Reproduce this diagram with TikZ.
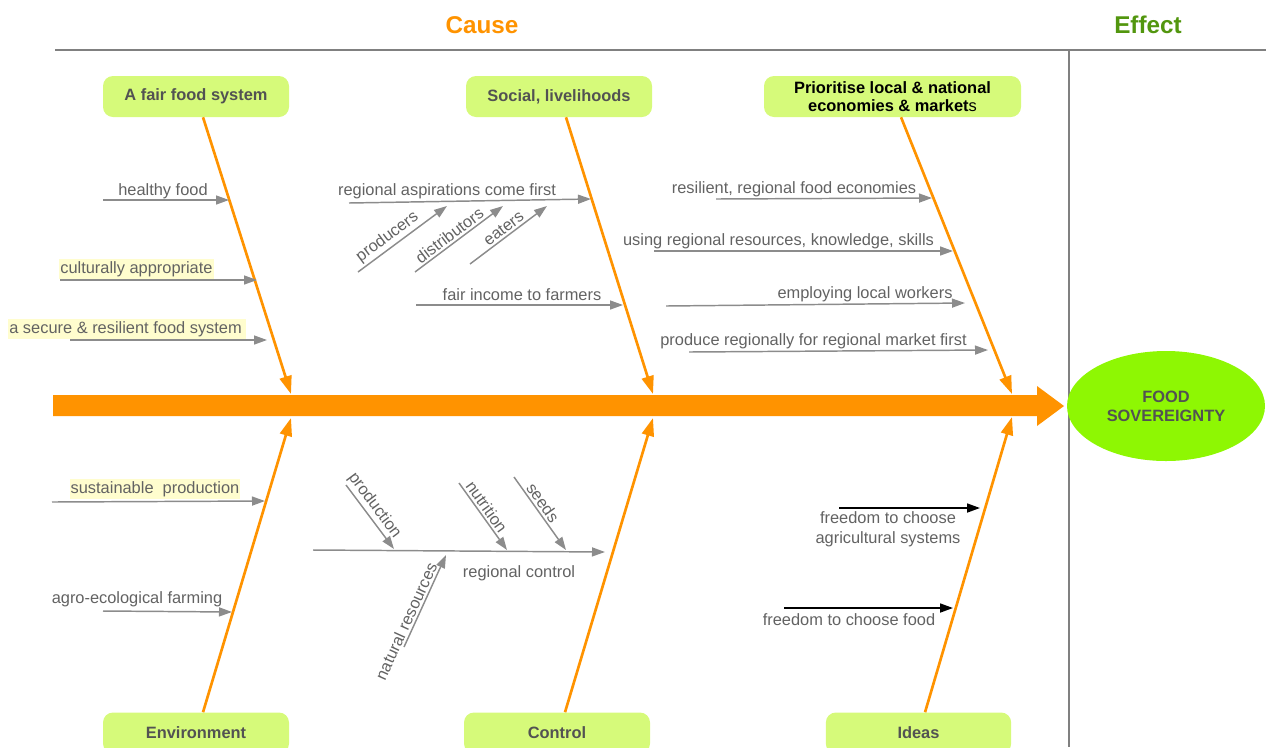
\documentclass[tikz,border=0pt]{standalone}
\usepackage{fontspec}
\setmainfont{Liberation Sans}
\usetikzlibrary{shapes.geometric,arrows.meta}
\definecolor{fborange}{RGB}{255,147,0}
\definecolor{boxgreen}{RGB}{214,250,122}
\definecolor{limegreen}{RGB}{142,247,3}
\definecolor{effgreen}{RGB}{82,150,14}
\definecolor{rulegray}{RGB}{128,128,128}
\definecolor{arrgray}{RGB}{140,140,140}
\definecolor{txtgray}{RGB}{98,98,98}
\definecolor{boxtxt}{RGB}{82,82,82}
\definecolor{hl}{RGB}{255,253,206}
\begin{document}
\begin{tikzpicture}[x=0.75pt,y=-0.75pt,
 lbl/.style={font=\fontsize{12.3}{15}\selectfont, text=txtgray, inner sep=0pt},
 hlbl/.style={lbl, fill=hl, inner ysep=1.6pt, inner xsep=0.8pt},
 cat/.style={fill=boxgreen, rounded corners=7.5pt, minimum height=30.75pt, font=\fontsize{12.3}{13.5}\selectfont\bfseries, text=boxtxt, inner sep=0pt, align=center},
 bone/.style={draw=fborange, line width=2pt, -{Triangle[length=13.5pt,width=9pt]}},
 sub/.style={draw=arrgray, line width=1.1pt, -{Triangle[length=9.75pt,width=6.75pt]}},
 blk/.style={draw=black, line width=1.3pt, -{Triangle[length=9.75pt,width=6.75pt]}},
 ttl/.style={font=\fontsize{18.2}{20}\selectfont\bfseries},
 slab/.style={lbl, sloped, above=1.5pt},
]
\useasboundingbox (0,0) rectangle (1266,747);

% titles and rules
\node[ttl, text=fborange, anchor=base] (cause) at (482,33) {Cause};
\node[ttl, text=effgreen, anchor=base] (effect) at (1148,33) {Effect};
\coordinate (hl1) at (55,50); \coordinate (hl2) at (1266,50);
\coordinate (vl1) at (1069,50); \coordinate (vl2) at (1069,747);
\draw[rulegray, line width=2.2pt] (hl1) -- (hl2);
\draw[rulegray, line width=2.2pt] (vl1) -- (vl2);

% spine
\fill[fborange] (53,395) -- (1037,395) -- (1037,386) -- (1064,406) -- (1037,426) -- (1037,416) -- (53,416) -- cycle;

% effect
\node[ellipse, fill=limegreen, minimum width=148.5pt, minimum height=82.5pt, inner sep=0pt,
      font=\fontsize{12.3}{14.3}\selectfont\bfseries, text=boxtxt, align=center] (fs) at (1166,406) {FOOD\\SOVEREIGNTY};

% categories
\node[cat, minimum width=139.5pt] (fair) at (196,96.5) {A fair food system};
\node[cat, minimum width=139.5pt] (social) at (559,96.5) {Social, livelihoods};
\node[cat, minimum width=192.75pt, text=black, font=\fontsize{12.3}{13.5}\selectfont] (prio) at (892.5,96.5) {\textbf{Prioritise local \& national}\\\textbf{economies \& market}s};
\node[cat, minimum width=139.5pt] (env) at (196,733) {Environment};
\node[cat, minimum width=139.5pt] (ctrl) at (557,733) {Control};
\node[cat, minimum width=139pt] (ideas) at (918.5,733) {Ideas};

% bone ends
\coordinate (t1) at (291,394); \coordinate (t2) at (653,394); \coordinate (t3) at (1012,394);
\coordinate (u1) at (291,418); \coordinate (u2) at (653,418); \coordinate (u3) at (1012,417);
\draw[bone] ([xshift=5.25pt]fair.south) -- (t1);
\draw[bone] ([xshift=5.25pt]social.south) -- (t2);
\draw[bone] ([xshift=6.4pt]prio.south) -- (t3);
\draw[bone] ([xshift=5.25pt]env.north) -- (u1);
\draw[bone] ([xshift=6pt]ctrl.north) -- (u2);
\draw[bone] ([xshift=4.9pt]ideas.north) -- (u3);

% --- A fair food system
\coordinate (a1s) at (103,200); \coordinate (a1e) at (229,200);
\draw[sub] (a1s) -- (a1e);
\node[lbl, anchor=base] (a1) at (163,195) {healthy food};
\coordinate (a2s) at (60,280); \coordinate (a2e) at (257,280);
\draw[sub] (a2s) -- (a2e);
\node[hlbl, anchor=base west] (a2) at (59,273) {culturally appropriate\ };
\coordinate (a3s) at (70,340); \coordinate (a3e) at (267,340);
\draw[sub] (a3s) -- (a3e);
\node[hlbl, anchor=base west] (a3) at (8,333) {a secure \& resilient food system\,};

% --- Social, livelihoods
\coordinate (s1s) at (349,203); \coordinate (s1e) at (591,199);
\draw[sub] (s1s) -- (s1e);
\node[lbl, anchor=base] (s1) at (447,195) {regional aspirations come first};
\coordinate (p1s) at (358,272); \coordinate (p1e) at (447,206);
\draw[sub] (p1s) -- node[slab, pos=0.4] (p1) {producers} (p1e);
\coordinate (p2s) at (415,272); \coordinate (p2e) at (503,206);
\draw[sub] (p2s) -- node[slab, pos=0.45] (p2) {distributors} (p2e);
\coordinate (p3s) at (470,264); \coordinate (p3e) at (547,206);
\draw[sub] (p3s) -- node[slab, pos=0.5] (p3) {eaters} (p3e);
\coordinate (s2s) at (416,305); \coordinate (s2e) at (623,305);
\draw[sub] (s2s) -- (s2e);
\node[lbl, anchor=base] (s2) at (522,300) {fair income to farmers};

% --- Prioritise local
\coordinate (r1s) at (716,199); \coordinate (r1e) at (932,198);
\draw[sub] (r1s) -- (r1e);
\node[lbl, anchor=base] (r1) at (794,193) {resilient, regional food economies};
\coordinate (r2s) at (654,251); \coordinate (r2e) at (953,251);
\draw[sub] (r2s) -- (r2e);
\node[lbl, anchor=base] (r2) at (778.5,245) {using regional resources, knowledge, skills};
\coordinate (r3s) at (666,306); \coordinate (r3e) at (965,303);
\draw[sub] (r3s) -- (r3e);
\node[lbl, anchor=base] (r3) at (865,298) {employing local workers};
\coordinate (r4s) at (689,352); \coordinate (r4e) at (988,350);
\draw[sub] (r4s) -- (r4e);
\node[lbl, anchor=base] (r4) at (813.5,345) {produce regionally for regional market first};

% --- Environment
\coordinate (e1s) at (52,502); \coordinate (e1e) at (265,501);
\draw[sub] (e1s) -- (e1e);
\node[hlbl, anchor=base] (e1) at (155,493) {sustainable\ \ production};
\coordinate (e2s) at (103,611); \coordinate (e2e) at (232,612);
\draw[sub] (e2s) -- (e2e);
\node[lbl, anchor=base] (e2) at (137,603) {agro-ecological farming};

% --- Control
\coordinate (c1s) at (313,550); \coordinate (c1e) at (605,552);
\draw[sub] (c1s) -- (c1e);
\node[lbl, anchor=base] (c1) at (519,577) {regional control};
\coordinate (q1s) at (346,485); \coordinate (q1e) at (394,549);
\draw[sub] (q1s) -- node[slab, pos=0.42] (q1) {production} (q1e);
\coordinate (q2s) at (459,483); \coordinate (q2e) at (507,550);
\draw[sub] (q2s) -- node[slab, pos=0.43] (q2) {nutrition} (q2e);
\coordinate (q3s) at (514,477); \coordinate (q3e) at (566,550);
\draw[sub] (q3s) -- node[slab, pos=0.42] (q3) {seeds} (q3e);
\coordinate (q4s) at (404,647); \coordinate (q4e) at (446,555);
\draw[sub] (q4s) -- node[slab, pos=0.24] (q4) {natural resources} (q4e);

% --- Ideas
\coordinate (i1s) at (839,508); \coordinate (i1e) at (980,508);
\draw[blk] (i1s) -- (i1e);
\node[lbl, align=center, anchor=center] (i1) at (888,529.5) {freedom to choose\\agricultural systems};
\coordinate (i2s) at (784,608); \coordinate (i2e) at (953,608);
\draw[blk] (i2s) -- (i2e);
\node[lbl, anchor=base] (i2) at (849,625) {freedom to choose food};
\end{tikzpicture}
\end{document}
